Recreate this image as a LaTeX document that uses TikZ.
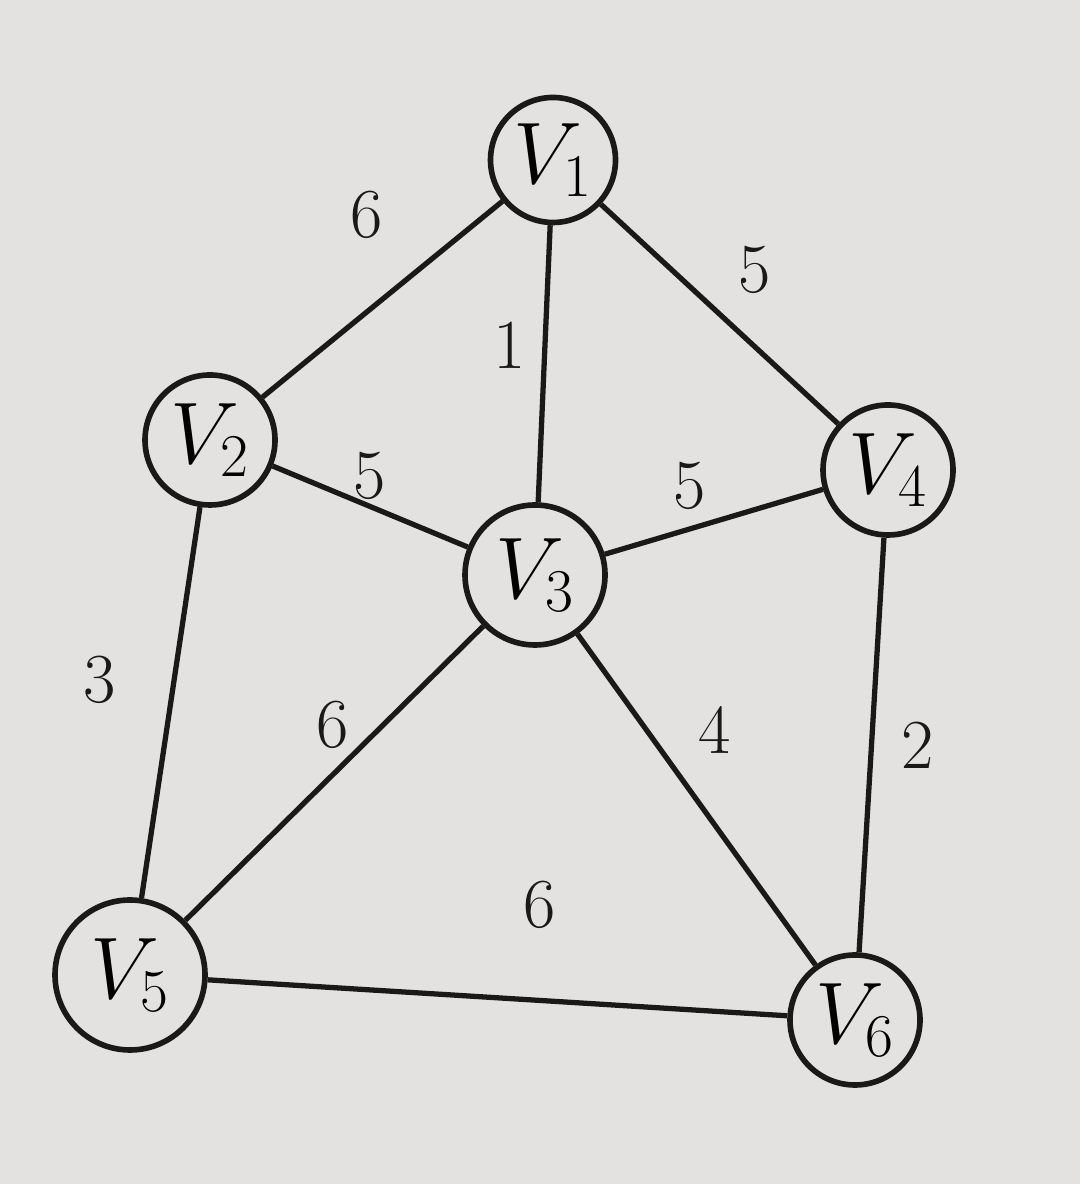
\documentclass[tikz,border=0pt]{standalone}
\usetikzlibrary{positioning}
\definecolor{paper}{RGB}{228,226,224}
\definecolor{ink}{RGB}{25,25,25}
\begin{document}
\begin{tikzpicture}[
  vertex/.style={circle,draw=ink,line width=1.6pt,minimum size=1.3cm,inner sep=0pt,font=\fontsize{24}{28}\selectfont},
  edge/.style={draw=ink,line width=1.5pt},
  weight/.style={font=\fontsize{20}{24}\selectfont,text=ink}]
\fill[paper] (0,0) rectangle (10.8,11.84);
\useasboundingbox (0,0) rectangle (10.8,11.84);
% vertices
\node[vertex,minimum size=1.25cm] (v1) at (5.53,10.24) {$V_1$};
\node[vertex] (v2) at (2.10,7.44) {$V_2$};
\node[vertex,minimum size=1.4cm] (v3) at (5.35,6.09) {$V_3$};
\node[vertex] (v4) at (8.88,7.14) {$V_4$};
\node[vertex,minimum size=1.5cm] (v5) at (1.30,2.09) {$V_5$};
\node[vertex] (v6) at (8.55,1.64) {$V_6$};
% edges
\draw[edge] (v1) -- (v2);
\draw[edge] (v1) -- (v3);
\draw[edge] (v1) -- (v4);
\draw[edge] (v2) -- (v3);
\draw[edge] (v3) -- (v4);
\draw[edge] (v2) -- (v5);
\draw[edge] (v3) -- (v5);
\draw[edge] (v3) -- (v6);
\draw[edge] (v4) -- (v6);
\draw[edge] (v5) -- (v6);
% weights
\node[weight] (w12) at (3.67,9.69) {6};
\node[weight] (w13) at (5.10,8.39) {1};
\node[weight] (w14) at (7.55,9.14) {5};
\node[weight] (w23) at (3.70,7.08) {5};
\node[weight] (w34) at (6.90,6.98) {5};
\node[weight] (w25) at (1.00,5.04) {3};
\node[weight] (w35) at (3.33,4.59) {6};
\node[weight] (w36) at (7.15,4.54) {4};
\node[weight] (w46) at (9.18,4.39) {2};
\node[weight] (w56) at (5.40,2.79) {6};
\end{tikzpicture}
\end{document}
